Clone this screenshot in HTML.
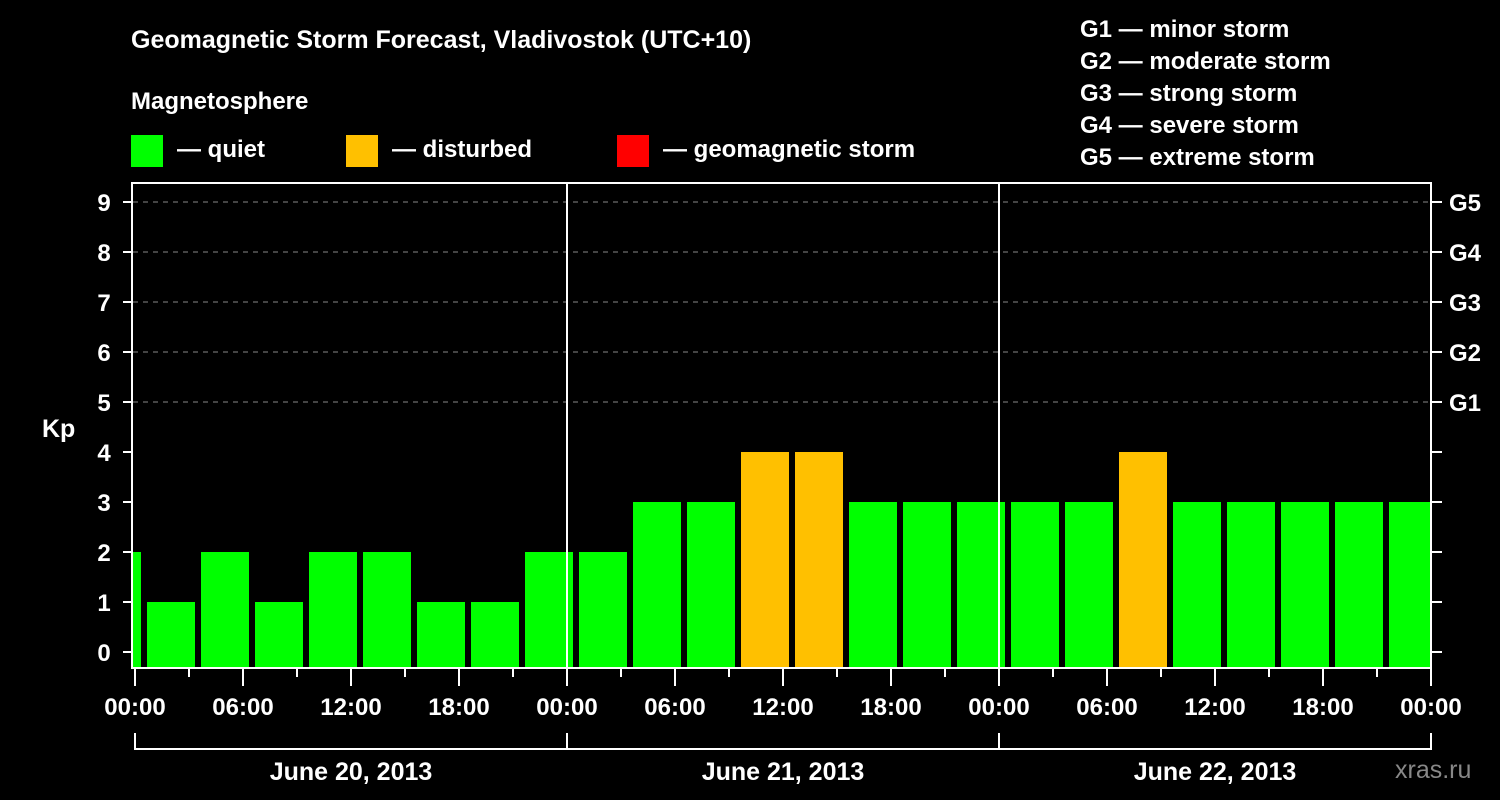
<!DOCTYPE html>
<html><head><meta charset="utf-8"><style>
body{margin:0;background:#000;width:1500px;height:800px;overflow:hidden}
svg{display:block;font-family:"Liberation Sans",Arial,sans-serif;font-weight:bold}
</style></head><body>
<svg id="c" width="1500" height="800">
<text x="131" y="48" fill="#fff" font-size="25">Geomagnetic Storm Forecast, Vladivostok (UTC+10)</text>
<text x="131" y="109" fill="#fff" font-size="24">Magnetosphere</text>
<g><rect x="131" y="135" width="32" height="32" fill="#00ff00"/><text x="177" y="157" fill="#fff" font-size="24">— quiet</text></g>
<g><rect x="346" y="135" width="32" height="32" fill="#ffc000"/><text x="392" y="157" fill="#fff" font-size="24">— disturbed</text></g>
<g><rect x="617" y="135" width="32" height="32" fill="#ff0000"/><text x="663" y="157" fill="#fff" font-size="24">— geomagnetic storm</text></g>
<g fill="#fff" font-size="24">
<text x="1080" y="37">G1 — minor storm</text><text x="1080" y="69">G2 — moderate storm</text><text x="1080" y="101">G3 — strong storm</text><text x="1080" y="133">G4 — severe storm</text><text x="1080" y="165">G5 — extreme storm</text></g>
<text x="42" y="437" fill="#fff" font-size="25">Kp</text>
<text x="1395" y="778" fill="#888" font-size="25" font-weight="normal">xras.ru</text>
<defs><clipPath id="pc"><rect x="133" y="183" width="1297" height="485"/></clipPath></defs>
<g id="grid"></g><g id="bars" clip-path="url(#pc)"></g><g id="axes"></g>
</svg>
<script>
const kpValues=[2,1,2,1,2,2,1,1,2,2,3,3,4,4,3,3,3,3,3,4,3,3,3,3,3];
const yTicks=[0,1,2,3,4,5,6,7,8,9];
const gLabels=["G1","G2","G3","G4","G5"];
const hourLabels=["00:00","06:00","12:00","18:00"];
const dayLabels=["June 20, 2013","June 21, 2013","June 22, 2013"];
const NS="http://www.w3.org/2000/svg";
const X0=135,PXH=18;
const yS=v=>652-50*v;
const xS=h=>X0+PXH*h;
function mk(t,a,p){const e=document.createElementNS(NS,t);for(const k in a)e.setAttribute(k,a[k]);document.getElementById(p).appendChild(e);return e;}
yTicks.forEach(v=>{
 if(v>=5){const g=mk('line',{x1:133,x2:1431,y1:yS(v),y2:yS(v),stroke:'#888','stroke-width':1,'stroke-dasharray':'5,5'},'grid');
 
 }
 const t=mk('line',{x1:123,x2:131,y1:yS(v),y2:yS(v),stroke:'#fff','stroke-width':2},'axes');
 
 
 const r=mk('line',{x1:1432,x2:1442,y1:yS(v),y2:yS(v),stroke:'#fff','stroke-width':2},'axes');
 
 
 const l=mk('text',{x:104,y:yS(v)+9,fill:'#fff','font-size':24,'text-anchor':'middle'},'axes');l.textContent=v;
 
 
});
gLabels.forEach((g,i)=>{const l=mk('text',{x:1449,y:yS(5+i)+9,fill:'#fff','font-size':24},'axes');l.textContent=g;
 
 });
kpValues.forEach((v,i)=>{
 const h0=-2.5+3*i;
 const c=v>=5?'#ff0000':(v>=4?'#ffc000':'#00ff00');
 const b=mk('rect',{x:xS(h0)+3,y:yS(v),width:3*PXH-6,height:668-yS(v),fill:c},'bars');
 
 
});
[1,2].forEach(d=>{const l=mk('line',{x1:xS(24*d),x2:xS(24*d),y1:182,y2:668,stroke:'#fff','stroke-width':2},'axes');
 
 });
const f=mk('rect',{x:132,y:183,width:1299,height:485,fill:'none',stroke:'#fff','stroke-width':2},'axes');


for(let h=0;h<=72;h+=3){
 const maj=h%6===0;
 const t=mk('line',{x1:xS(h),x2:xS(h),y1:669,y2:maj?686:677,stroke:'#fff','stroke-width':2},'axes');
 
 
 if(maj){const l=mk('text',{x:xS(h),y:715,fill:'#fff','font-size':24,'text-anchor':'middle'},'axes');l.textContent=hourLabels[(h/6)%4];
 
 }
}
const br=mk('polyline',{points:'',fill:'none',stroke:'#fff','stroke-width':2},'axes');
br.setAttribute('points',`${xS(0)},733 ${xS(0)},749 ${xS(72)},749 ${xS(72)},733`);


dayLabels.forEach((d,i)=>{
 if(i>0){const v=mk('line',{x1:xS(24*i),x2:xS(24*i),y1:733,y2:749,stroke:'#fff','stroke-width':2},'axes');
 
 }
 const l=mk('text',{x:xS(24*i+12),y:780,fill:'#fff','font-size':25,'text-anchor':'middle'},'axes');l.textContent=d;
 
 
});
</script>
</body></html>
